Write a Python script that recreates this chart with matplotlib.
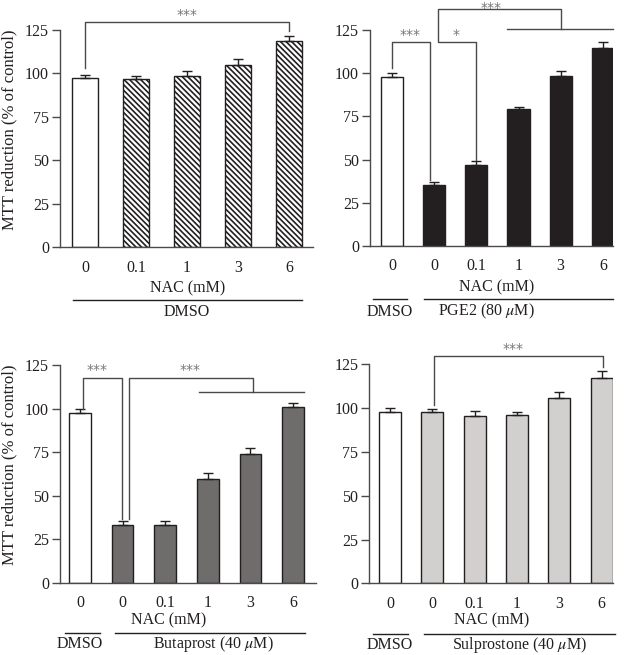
import numpy as np
import matplotlib
matplotlib.use("Agg")
import matplotlib.pyplot as plt
import matplotlib.transforms as mtransforms

plt.rcParams["font.family"] = ["Liberation Serif", "DejaVu Serif"]
plt.rcParams["mathtext.fontset"] = "stix"
plt.rcParams["hatch.linewidth"] = 1.2
plt.rcParams["hatch.color"] = "#231f20"

INK = "#231f20"
LINE = "#4a4a4a"

# data
dmso_labels = ["0", "0.1", "1", "3", "6"]
dmso_mean = [97.3, 96.6, 98.5, 104.8, 118.8]
dmso_err = [1.7, 1.9, 3.1, 3.5, 2.9]

treat_labels = ["0", "0", "0.1", "1", "3", "6"]
pge2_mean = [97.6, 35.2, 46.7, 79.3, 98.5, 114.4]
pge2_err = [2.4, 2.0, 2.3, 1.3, 2.9, 3.8]
buta_mean = [97.6, 33.2, 33.2, 59.5, 73.7, 100.7]
buta_err = [1.9, 2.3, 2.3, 3.5, 3.8, 2.6]
sulp_mean = [97.9, 97.9, 95.7, 96.3, 105.9, 117.3]
sulp_err = [2.3, 1.6, 2.8, 1.3, 3.4, 3.7]

W, H = 625, 655
fig = plt.figure(figsize=(W / 100, H / 100), dpi=100)


def px_axes(left, right, top, bottom):
    return fig.add_axes([left / W, (H - bottom) / H, (right - left) / W, (bottom - top) / H])


def style(ax, labels, xlim):
    ax.set_ylim(0, 125)
    ax.set_xlim(*xlim)
    ax.set_yticks(np.arange(0, 126, 25))
    ax.set_xticks(range(len(labels)))
    ax.set_xticklabels(labels)
    for s in ["top", "right"]:
        ax.spines[s].set_visible(False)
    for s in ["left", "bottom"]:
        ax.spines[s].set_color(LINE)
        ax.spines[s].set_linewidth(1.0)
    ax.tick_params(axis="y", direction="out", length=6, width=1.0, color=LINE,
                   labelsize=11.5, labelcolor=INK, pad=2)
    ax.tick_params(axis="x", length=0, labelsize=11.5, labelcolor=INK, pad=9)


def bars(ax, means, errs, colors, width, hatch=None):
    x = np.arange(len(means))
    for i in range(len(means)):
        ax.bar(x[i], means[i], width=width, color=colors[i], edgecolor=INK, linewidth=1.0,
               hatch=hatch if (hatch and i > 0) else None, zorder=2)
    ax.errorbar(x, means, yerr=[np.zeros(len(errs)), errs], fmt="none", ecolor=INK,
                elinewidth=1.0, capsize=3.5, capthick=1.0, zorder=3)


def seg(ax, xs, ys):
    ax.plot(xs, ys, color=LINE, lw=1.0, clip_on=False, zorder=4)


def stars(ax, x, y, txt, va="bottom"):
    ax.text(x, y, txt, ha="center", va=va, color="#777777", fontsize=10,
            family="DejaVu Sans", clip_on=False)


def under(ax, nac_x, nac_y, line_y, lab_y, groups):
    tr = mtransforms.blended_transform_factory(ax.transData, ax.transAxes)
    ax.text(nac_x, nac_y, "NAC (mM)", transform=tr, ha="center", va="center",
            fontsize=11.5, color=INK)
    for (x0, x1, lx, txt) in groups:
        ax.plot([x0, x1], [line_y, line_y], transform=tr, color=INK, lw=1.0, clip_on=False)
        ax.text(lx, lab_y, txt, transform=tr, ha="center", va="center", fontsize=11.5, color=INK)


# panel 1: DMSO
ax1 = px_axes(60, 313, 30, 247)
bars(ax1, dmso_mean, dmso_err, ["white"] * 5, 0.51, hatch="\\\\\\\\\\\\")
style(ax1, dmso_labels, (-0.49, 4.47))
seg(ax1, [0, 0, 4, 4], [dmso_mean[0] + dmso_err[0] + 4, 129.4, 129.4,
                        dmso_mean[4] + dmso_err[4] + 2.5])
stars(ax1, 2, 129.6, "***")
under(ax1, 2.02, -0.189, -0.244, -0.30, [(-0.24, 4.25, 2.0, "DMSO")])
ax1.set_ylabel("MTT reduction (% of control)", fontsize=12, color=INK)
ax1.yaxis.set_label_coords(-0.17, 0.54)

# panel 2: PGE2
ax2 = px_axes(370, 613, 30, 246)
bars(ax2, pge2_mean, pge2_err, ["white"] + ["#231f20"] * 5, 0.53)
style(ax2, treat_labels, (-0.52, 5.24))
e2 = [m + e for m, e in zip(pge2_mean, pge2_err)]
seg(ax2, [0, 0, 0.9, 0.9], [e2[0] + 3, 118, 118, e2[1] + 1])
stars(ax2, 0.43, 118.3, "***")
seg(ax2, [2.0, 2.0, 1.08, 1.08, 4.0, 4.0], [e2[2] + 1, 118, 118, 137, 137, 125.5])
stars(ax2, 1.52, 118.3, "*")
seg(ax2, [2.72, 5.24], [125.5, 125.5])
stars(ax2, 2.36, 141.6, "***", va="top")
under(ax2, 2.49, -0.19, -0.245, -0.305,
      [(-0.45, 0.36, -0.05, "DMSO"), (0.76, 5.24, 2.25, r"PGE2 (80 $\mu$M)")])

# panel 3: Butaprost
ax3 = px_axes(60, 316, 365, 582.7)
bars(ax3, buta_mean, buta_err, ["white"] + ["#6f6c6c"] * 5, 0.51)
style(ax3, treat_labels, (-0.47, 5.54))
e3 = [m + e for m, e in zip(buta_mean, buta_err)]
seg(ax3, [0.06, 0.06, 0.98, 0.98], [e3[0] + 0.5, 117.8, 117.8, e3[1] + 1])
stars(ax3, 0.39, 118.1, "***")
seg(ax3, [1.16, 1.16, 4.07, 4.07], [e3[1] + 1, 117.8, 117.8, 109.3])
seg(ax3, [2.8, 5.26], [109.3, 109.3])
stars(ax3, 2.58, 118.1, "***")
under(ax3, 2.07, -0.171, -0.231, -0.282,
      [(-0.35, 0.47, 0.0, "DMSO"), (0.82, 5.28, 3.12, r"Butaprost (40 $\mu$M)")])
ax3.set_ylabel("MTT reduction (% of control)", fontsize=12, color=INK)
ax3.yaxis.set_label_coords(-0.165, 0.54)

# panel 4: Sulprostone
ax4 = px_axes(369.3, 613, 364.3, 583.3)
bars(ax4, sulp_mean, sulp_err, ["white"] + ["#d1d0ce"] * 5, 0.52)
style(ax4, treat_labels, (-0.49, 5.27))
e4 = [m + e for m, e in zip(sulp_mean, sulp_err)]
seg(ax4, [1.04, 1.04, 5.03, 5.03], [e4[1] + 2.5, 129.7, 129.7, e4[5] + 2.3])
stars(ax4, 2.9, 130.0, "***")
under(ax4, 2.41, -0.171, -0.23, -0.28,
      [(-0.4, 0.43, 0.0, "DMSO"), (0.8, 5.32, 3.07, r"Sulprostone (40 $\mu$M)")])

fig.savefig("out.png", dpi=100)
